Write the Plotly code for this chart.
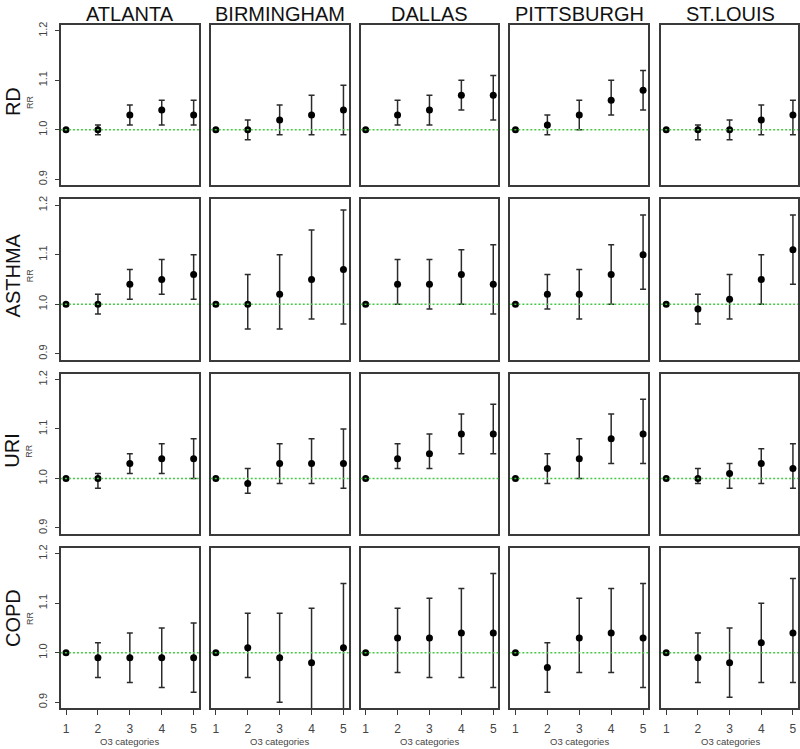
import plotly.graph_objects as go
from plotly.subplots import make_subplots

# Relative risk by O3 category, per city, for four outcomes
cities = ["ATLANTA", "BIRMINGHAM", "DALLAS", "PITTSBURGH", "ST.LOUIS"]
outcomes = ["RD", "ASTHMA", "URI", "COPD"]
categories = [1, 2, 3, 4, 5]
y_ticks = [0.9, 1.0, 1.1, 1.2]

# each list holds one row per city (Atlanta .. St.Louis)
rd_rr = [[1.00, 1.00, 1.03, 1.04, 1.03], [1.00, 1.00, 1.02, 1.03, 1.04], [1.00, 1.03, 1.04, 1.07, 1.07],
         [1.00, 1.01, 1.03, 1.06, 1.08], [1.00, 1.00, 1.00, 1.02, 1.03]]
rd_lo = [[1.00, 0.99, 1.01, 1.01, 1.01], [1.00, 0.98, 0.99, 0.99, 0.99], [1.00, 1.01, 1.01, 1.04, 1.02],
         [1.00, 0.99, 1.00, 1.03, 1.04], [1.00, 0.98, 0.98, 0.99, 0.99]]
rd_hi = [[1.00, 1.01, 1.05, 1.06, 1.06], [1.00, 1.02, 1.05, 1.07, 1.09], [1.00, 1.06, 1.07, 1.10, 1.11],
         [1.00, 1.03, 1.06, 1.10, 1.12], [1.00, 1.01, 1.02, 1.05, 1.06]]

asthma_rr = [[1.00, 1.00, 1.04, 1.05, 1.06], [1.00, 1.00, 1.02, 1.05, 1.07], [1.00, 1.04, 1.04, 1.06, 1.04],
             [1.00, 1.02, 1.02, 1.06, 1.10], [1.00, 0.99, 1.01, 1.05, 1.11]]
asthma_lo = [[1.00, 0.98, 1.01, 1.02, 1.01], [1.00, 0.95, 0.95, 0.97, 0.96], [1.00, 1.00, 0.99, 1.00, 0.98],
             [1.00, 0.99, 0.97, 1.00, 1.03], [1.00, 0.96, 0.97, 1.00, 1.04]]
asthma_hi = [[1.00, 1.02, 1.07, 1.09, 1.10], [1.00, 1.06, 1.10, 1.15, 1.19], [1.00, 1.09, 1.09, 1.11, 1.12],
             [1.00, 1.06, 1.07, 1.12, 1.18], [1.00, 1.02, 1.06, 1.10, 1.18]]

uri_rr = [[1.00, 1.00, 1.03, 1.04, 1.04], [1.00, 0.99, 1.03, 1.03, 1.03], [1.00, 1.04, 1.05, 1.09, 1.09],
          [1.00, 1.02, 1.04, 1.08, 1.09], [1.00, 1.00, 1.01, 1.03, 1.02]]
uri_lo = [[1.00, 0.98, 1.01, 1.01, 1.00], [1.00, 0.97, 0.99, 0.99, 0.98], [1.00, 1.02, 1.02, 1.05, 1.05],
          [1.00, 0.99, 1.00, 1.03, 1.03], [1.00, 0.99, 0.98, 0.99, 0.98]]
uri_hi = [[1.00, 1.01, 1.05, 1.07, 1.08], [1.00, 1.02, 1.07, 1.08, 1.10], [1.00, 1.07, 1.09, 1.13, 1.15],
          [1.00, 1.05, 1.08, 1.13, 1.16], [1.00, 1.02, 1.03, 1.06, 1.07]]

copd_rr = [[1.00, 0.99, 0.99, 0.99, 0.99], [1.00, 1.01, 0.99, 0.98, 1.01], [1.00, 1.03, 1.03, 1.04, 1.04],
           [1.00, 0.97, 1.03, 1.04, 1.03], [1.00, 0.99, 0.98, 1.02, 1.04]]
copd_lo = [[1.00, 0.95, 0.94, 0.93, 0.92], [1.00, 0.95, 0.90, 0.87, 0.87], [1.00, 0.96, 0.95, 0.95, 0.93],
           [1.00, 0.92, 0.96, 0.96, 0.93], [1.00, 0.94, 0.91, 0.94, 0.94]]
copd_hi = [[1.00, 1.02, 1.04, 1.05, 1.06], [1.00, 1.08, 1.08, 1.09, 1.14], [1.00, 1.09, 1.11, 1.13, 1.16],
           [1.00, 1.02, 1.11, 1.13, 1.14], [1.00, 1.04, 1.05, 1.10, 1.15]]

series = {
    "RD": (rd_rr, rd_lo, rd_hi),
    "ASTHMA": (asthma_rr, asthma_lo, asthma_hi),
    "URI": (uri_rr, uri_lo, uri_hi),
    "COPD": (copd_rr, copd_lo, copd_hi),
}

W, H = 800, 749
col_left = [61, 211, 361, 511, 662]
col_w = 138
row_top = [22, 197, 372, 547]
row_h = 161
label_y = [99, 273, 449, 617]

FONT = "Liberation Sans, Arial, sans-serif"
AXIS_COL = "#3a3a3a"
TEXT_COL = "#444444"

fig = make_subplots(rows=4, cols=5)

for r, outcome in enumerate(outcomes):
    rr, lo, hi = series[outcome]
    for c in range(len(cities)):
        # no whisker where the interval collapses (reference category)
        up = [h - v if abs(h - v) > 1e-9 else None for h, v in zip(hi[c], rr[c])]
        dn = [v - l if abs(v - l) > 1e-9 else None for l, v in zip(lo[c], rr[c])]
        fig.add_trace(
            go.Scatter(
                x=categories,
                y=rr[c],
                mode='markers',
                marker=dict(color="black", size=7),
                error_y=dict(type='data', symmetric=False, array=up, arrayminus=dn,
                             color="#2b2b2b", thickness=1.5, width=3),
                showlegend=False,
                hoverinfo='skip'
            ),
            row=r + 1, col=c + 1
        )
        # reference line at RR = 1
        fig.add_hline(y=1.0, line_color="#44c844", line_width=1.5, line_dash="2px,2px",
                      row=r + 1, col=c + 1)

for r in range(4):
    for c in range(5):
        idx = r * 5 + c + 1
        xa = "xaxis" if idx == 1 else f"xaxis{idx}"
        ya = "yaxis" if idx == 1 else f"yaxis{idx}"
        x0 = col_left[c] / W
        x1 = min(col_left[c] + col_w, W - 1) / W
        y1 = 1 - row_top[r] / H
        y0 = 1 - (row_top[r] + row_h) / H
        fig.layout[xa].update(
            domain=[x0, x1], range=[0.84, 5.16],
            showline=True, mirror=True, linecolor=AXIS_COL, linewidth=1.5,
            showgrid=False, zeroline=False,
            tickvals=categories if r == 3 else [],
            showticklabels=(r == 3),
            ticks="outside" if r == 3 else "", ticklen=5, tickwidth=1.2, tickcolor=AXIS_COL,
            tickfont=dict(family=FONT, size=12, color=TEXT_COL),
            ticklabelstandoff=4,
        )
        fig.layout[ya].update(
            domain=[y0, y1], range=[0.888, 1.212],
            showline=True, mirror=True, linecolor=AXIS_COL, linewidth=1.5,
            showgrid=False, zeroline=False,
            tickvals=y_ticks if c == 0 else [],
            ticktext=[f"{t:.1f}" for t in y_ticks] if c == 0 else [],
            showticklabels=(c == 0),
            ticks="outside" if c == 0 else "", ticklen=4, tickwidth=1.2, tickcolor=AXIS_COL,
            tickangle=-90,
            tickfont=dict(family=FONT, size=11, color=TEXT_COL),
            ticklabelstandoff=4,
        )

annotations = []
for c, city in enumerate(cities):
    annotations.append(dict(
        text=city, x=(col_left[c] + col_w / 2) / W, y=1 - 11.5 / H,
        xref="paper", yref="paper", showarrow=False, xanchor="center", yanchor="middle",
        font=dict(family=FONT, size=20, color="#111111")))
    annotations.append(dict(
        text="O3 categories", x=(col_left[c] + col_w / 2) / W, y=1 - 741 / H,
        xref="paper", yref="paper", showarrow=False, xanchor="center", yanchor="middle",
        font=dict(family=FONT, size=9.5, color=TEXT_COL)))
for r, outcome in enumerate(outcomes):
    annotations.append(dict(
        text=outcome, x=12.5 / W, y=1 - label_y[r] / H, textangle=-90,
        xref="paper", yref="paper", showarrow=False, xanchor="center", yanchor="middle",
        font=dict(family=FONT, size=20, color="#111111")))
    annotations.append(dict(
        text="RR", x=29.5 / W, y=1 - label_y[r] / H, textangle=-90,
        xref="paper", yref="paper", showarrow=False, xanchor="center", yanchor="middle",
        font=dict(family=FONT, size=9, color=TEXT_COL)))

fig.update_layout(
    width=W, height=H,
    margin=dict(l=0, r=0, t=0, b=0),
    plot_bgcolor="white", paper_bgcolor="white",
    annotations=annotations,
    showlegend=False,
)

# drop the browser's default 8px body margin so the figure sits at the page origin
fig.write_html("out.html", config={"displayModeBar": False},
               post_script="document.body.style.margin='0px';")
